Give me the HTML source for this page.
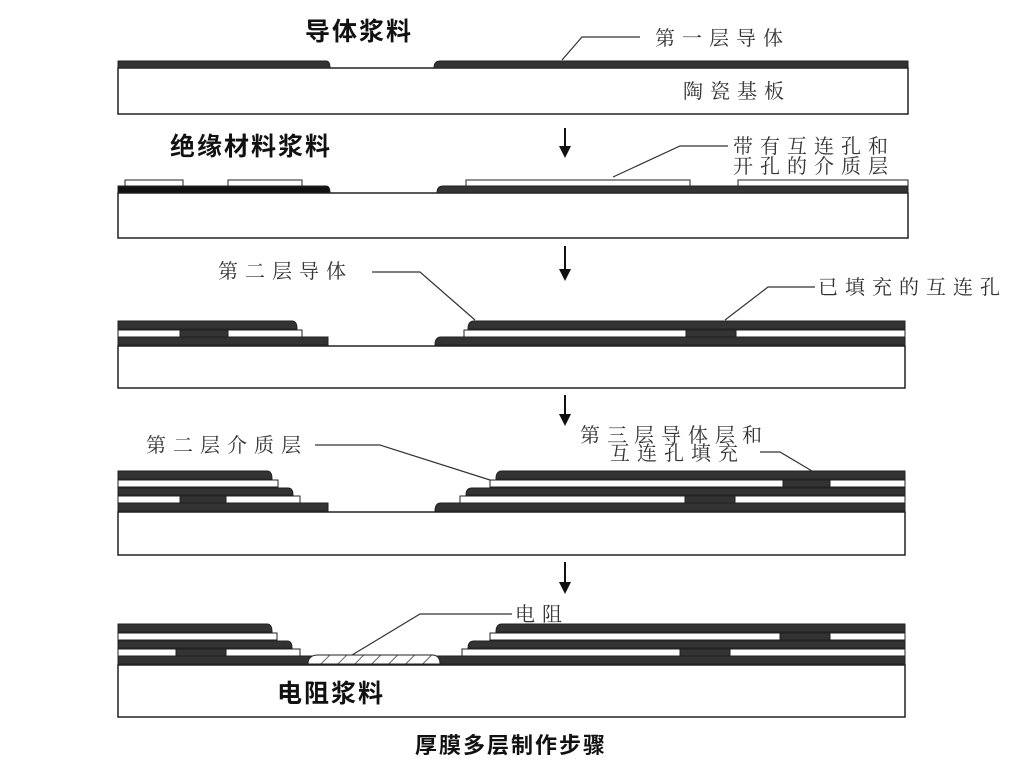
<!DOCTYPE html>
<html><head><meta charset="utf-8"><style>
html,body{margin:0;padding:0;background:#fff;}
svg{display:block;}
.s{font-family:"Liberation Serif","Noto Serif CJK SC",serif;font-size:20px;letter-spacing:7px;fill:#333;}
.b{font-family:"Liberation Sans","Noto Sans CJK SC",sans-serif;font-size:25px;letter-spacing:2px;font-weight:bold;fill:#111;}
</style></head><body>
<svg width="1020" height="777" viewBox="0 0 1020 777" xmlns="http://www.w3.org/2000/svg">
<defs>
<pattern id="h" width="12" height="12" patternUnits="userSpaceOnUse" patternTransform="rotate(45)">
<rect width="12" height="12" fill="#fff"/><line x1="0" y1="0" x2="0" y2="12" stroke="#333" stroke-width="1.5"/></pattern>
<marker id="a" viewBox="0 0 10 10" refX="5" refY="5" markerWidth="6" markerHeight="6" orient="auto"><path d="M0,0 L10,5 L0,10 z" fill="#111"/></marker>
</defs>
<g fill="#333" stroke="#222" stroke-width="1">
<rect x="118" y="68" width="790" height="46" fill="#fff" stroke-width="1.5"/>
<path d="M118 61 H326 Q330 61 330 68 H118 Z"/>
<path d="M434 68 Q434 61 440 61 H908 V68 Z"/>
<rect x="118" y="193" width="790" height="45" fill="#fff" stroke-width="1.5"/>
<path d="M118 186 H326 Q330 186 330 193 H118 Z" fill="#111"/>
<path d="M437 193 Q437 186 443 186 H908 V193 Z"/>
<rect x="125" y="180" width="58" height="6" fill="#fff"/>
<rect x="228" y="180" width="74" height="6" fill="#fff"/>
<rect x="466" y="180" width="224" height="6" fill="#fff"/>
<rect x="738" y="180" width="170" height="6" fill="#fff"/>
<rect x="118" y="346" width="787" height="42" fill="#fff" stroke-width="1.5"/>
<path d="M118 337 H328 V345 H118 Z"/>
<path d="M435 345 Q435 337 441 337 H905 V345 Z"/>
<rect x="118" y="330" width="184" height="7" fill="#fff"/>
<rect x="464" y="330" width="441" height="7" fill="#fff"/>
<rect x="180" y="330" width="48" height="7"/>
<rect x="686" y="330" width="50" height="7"/>
<path d="M118 321 H292 Q297 321 297 329 H118 Z"/>
<path d="M468 329 Q468 321 474 321 H905 V329 Z"/>
<rect x="118" y="512" width="787" height="43" fill="#fff" stroke-width="1.5"/>
<path d="M118 503 H328 V511 H118 Z"/>
<path d="M435 511 Q435 503 441 503 H905 V511 Z"/>
<rect x="118" y="496" width="182" height="7" fill="#fff"/>
<rect x="460" y="496" width="445" height="7" fill="#fff"/>
<rect x="180" y="496" width="46" height="7"/>
<rect x="685" y="496" width="50" height="7"/>
<path d="M118 488 H288 Q293 488 293 495 H118 Z"/>
<path d="M466 495 Q466 488 472 488 H905 V495 Z"/>
<rect x="118" y="480" width="160" height="7" fill="#fff"/>
<rect x="490" y="480" width="415" height="7" fill="#fff"/>
<rect x="783" y="480" width="47" height="7"/>
<path d="M118 471 H267 Q272 471 272 479 H118 Z"/>
<path d="M496 479 Q496 471 502 471 H905 V479 Z"/>
<rect x="118" y="665" width="787" height="52" fill="#fff" stroke-width="1.5"/>
<path d="M118 656 H322 V664 H118 Z"/>
<path d="M432 664 Q432 656 438 656 H905 V664 Z"/>
<path d="M308 664 Q308 655 318 655 H432 Q440 655 440 664 Z" fill="url(#h)"/>
<rect x="118" y="649" width="182" height="7" fill="#fff"/>
<rect x="462" y="649" width="443" height="7" fill="#fff"/>
<rect x="176" y="649" width="50" height="7"/>
<rect x="680" y="649" width="50" height="7"/>
<path d="M118 641 H287 Q292 641 292 648 H118 Z"/>
<path d="M468 648 Q468 641 474 641 H905 V648 Z"/>
<rect x="118" y="633" width="159" height="7" fill="#fff"/>
<rect x="490" y="633" width="415" height="7" fill="#fff"/>
<rect x="780" y="633" width="50" height="7"/>
<path d="M118 624 H267 Q272 624 272 632 H118 Z"/>
<path d="M496 632 Q496 624 502 624 H905 V632 Z"/>
</g>
<g stroke="#111" stroke-width="2" marker-end="url(#a)">
<line x1="565" y1="128" x2="565" y2="152"/>
<line x1="565" y1="246" x2="565" y2="275"/>
<line x1="565" y1="395" x2="565" y2="420"/>
<line x1="565" y1="562" x2="565" y2="588"/>
</g>
<g stroke="#333" stroke-width="1.2" fill="none">
<polyline points="562,60 582,37 640,37"/>
<polyline points="613,177 680,146 728,146"/>
<polyline points="372,272 420,272 475,320"/>
<polyline points="725,320 768,287 815,287"/>
<polyline points="315,445 380,445 490,480"/>
<polyline points="760,452 780,452 812,471"/>
<polyline points="352,655 420,614 512,614"/>
</g>
<g class="s">
<text x="655" y="45">第一层导体</text>
<text x="683" y="98">陶瓷基板</text>
<text x="733" y="153">带有互连孔和</text>
<text x="733" y="173">开孔的介质层</text>
<text x="218" y="278">第二层导体</text>
<text x="818" y="294">已填充的互连孔</text>
<text x="146" y="452">第二层介质层</text>
<text x="580" y="442">第三层导体层和</text>
<text x="610" y="460">互连孔填充</text>
<text x="515" y="621">电阻</text>
</g>
<g class="b">
<text x="305" y="40">导体浆料</text>
<text x="170" y="155">绝缘材料浆料</text>
<text x="277" y="702">电阻浆料</text>
<text x="415" y="753" style="font-size:22px">厚膜多层制作步骤</text>
</g>
</svg>
</body></html>
